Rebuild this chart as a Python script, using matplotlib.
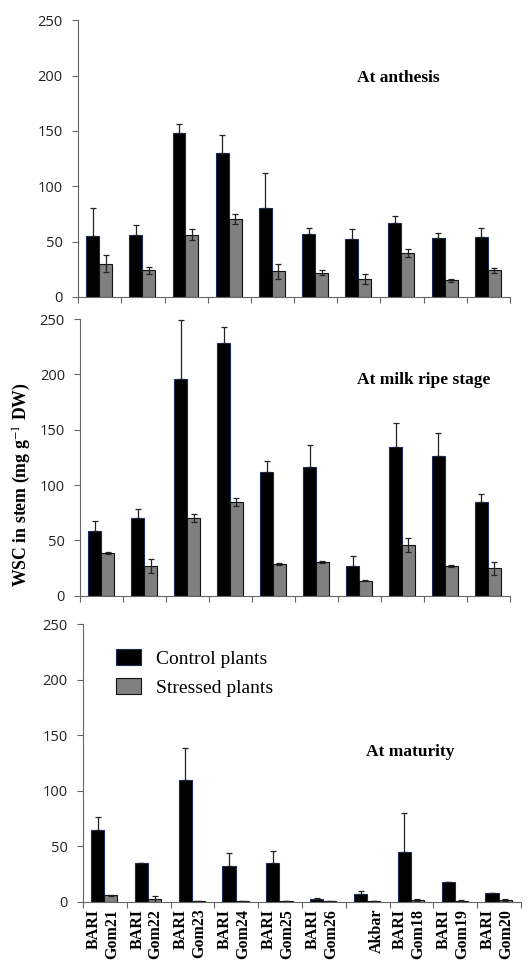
import matplotlib.pyplot as plt
import numpy as np

plt.rcParams['mathtext.fontset'] = 'stix'

# Genotipos (eje x)
genotipos = ['BARI\nGom21', 'BARI\nGom22', 'BARI\nGom23', 'BARI\nGom24', 'BARI\nGom25',
             'BARI\nGom26', 'Akbar', 'BARI\nGom18', 'BARI\nGom19', 'BARI\nGom20']

# At anthesis
antesis_ctrl = [55, 56, 148, 130, 80, 57, 52, 67, 53, 54]
antesis_ctrl_err = [25, 9, 8, 16, 32, 5, 9, 6, 5, 8]
antesis_estr = [30, 24, 56, 70, 23, 22, 16, 40, 15, 24]
antesis_estr_err = [7.5, 3.5, 5, 4.5, 6.5, 2, 4.5, 3.5, 1.2, 2]

# At milk ripe stage
leche_ctrl = [59, 70, 196, 228, 112, 116, 27, 134, 126, 85]
leche_ctrl_err = [9, 8.5, 53, 15, 10, 20, 9, 22, 21, 7]
leche_estr = [39, 27, 70, 85, 29, 30.5, 13.5, 46, 27, 25]
leche_estr_err = [1, 6, 3.5, 3.5, 1, 1, 0.5, 6, 1.2, 6]

# At maturity
madurez_ctrl = [65, 35.5, 110, 32.5, 35, 2.5, 7, 45, 18, 8.5]
madurez_ctrl_err = [11.5, 0, 29, 11.5, 11, 1.5, 3, 35, 0, 0]
madurez_estr = [6, 2.5, 0.8, 0.8, 0.8, 0.8, 0.8, 2, 1, 2]
madurez_estr_err = [0.5, 2.7, 0.3, 0.3, 0.3, 0.3, 0.3, 1, 0.5, 0.8]

paneles = [
    ('At anthesis', antesis_ctrl, antesis_ctrl_err, antesis_estr, antesis_estr_err),
    ('At milk ripe stage', leche_ctrl, leche_ctrl_err, leche_estr, leche_estr_err),
    ('At maturity', madurez_ctrl, madurez_ctrl_err, madurez_estr, madurez_estr_err),
]

fig = plt.figure(figsize=(5.28, 9.61), dpi=100)
posiciones = [
    [0.148, 0.691, 0.818, 0.288],
    [0.152, 0.380, 0.814, 0.288],
    [0.157, 0.0614, 0.830, 0.289],
]

x = np.arange(len(genotipos))
ancho = 0.30
color_eje = '#666666'
serif = 'Liberation Serif'

for i, (titulo, ctrl, ctrl_err, estr, estr_err) in enumerate(paneles):
    ax = fig.add_axes(posiciones[i])
    err_kw = dict(ecolor='#222222', elinewidth=0.9, capsize=2.5, capthick=0.9)
    # Control: solo la mitad superior del error es visible
    ax.bar(x - 0.165, ctrl, ancho, yerr=[np.zeros(len(ctrl)), ctrl_err], color='black',
           edgecolor='#1a2a5a', linewidth=0.8, error_kw=err_kw, label='Control plants')
    ax.bar(x + 0.135, estr, ancho, yerr=estr_err, color='#808080', edgecolor='#111111',
           linewidth=0.8, error_kw=err_kw, label='Stressed plants')

    ax.set_xlim(-0.5, len(genotipos) - 0.5)
    ax.set_ylim(0, 250)
    ax.set_yticks([0, 50, 100, 150, 200, 250])
    ax.set_xticks(np.arange(len(genotipos) + 1) - 0.5)
    ax.set_xticklabels([])
    ax.tick_params(axis='both', direction='out', length=4, width=0.8, color=color_eje)
    ax.tick_params(axis='y', labelsize=10.5, labelcolor='#222222', pad=7)
    for lbl in ax.get_yticklabels():
        lbl.set_family('Open Sans')
    for lado in ['top', 'right']:
        ax.spines[lado].set_visible(False)
    for lado in ['left', 'bottom']:
        ax.spines[lado].set_color(color_eje)
        ax.spines[lado].set_linewidth(0.8)

    ax.text(0.645, [0.79, 0.78, 0.54][i], titulo, transform=ax.transAxes,
            fontsize=12.5, fontweight='bold', family=serif, va='center', ha='left')

    if i == 2:
        # Etiquetas de genotipos rotadas bajo el último panel
        for xi, nombre in zip(x, genotipos):
            desplaz = 0.2 if '\n' not in nombre else -0.05
            ax.text(xi + desplaz, -6, nombre, rotation=90, ha='center', va='top',
                    multialignment='right', fontsize=11.5, fontweight='bold',
                    family=serif, linespacing=1.2)
        ax.legend(loc='upper left', bbox_to_anchor=(0.035, 0.975), frameon=False,
                  prop={'family': serif, 'size': 14}, handlelength=1.3,
                  handleheight=0.95, labelspacing=0.5, handletextpad=0.75)

fig.text(0.042, 0.496, 'WSC in stem (mg g$^{-1}$ DW)', rotation=90, ha='center',
         va='center', fontsize=12.8, fontweight='bold', family=serif)

plt.savefig('out.png', dpi=100)
